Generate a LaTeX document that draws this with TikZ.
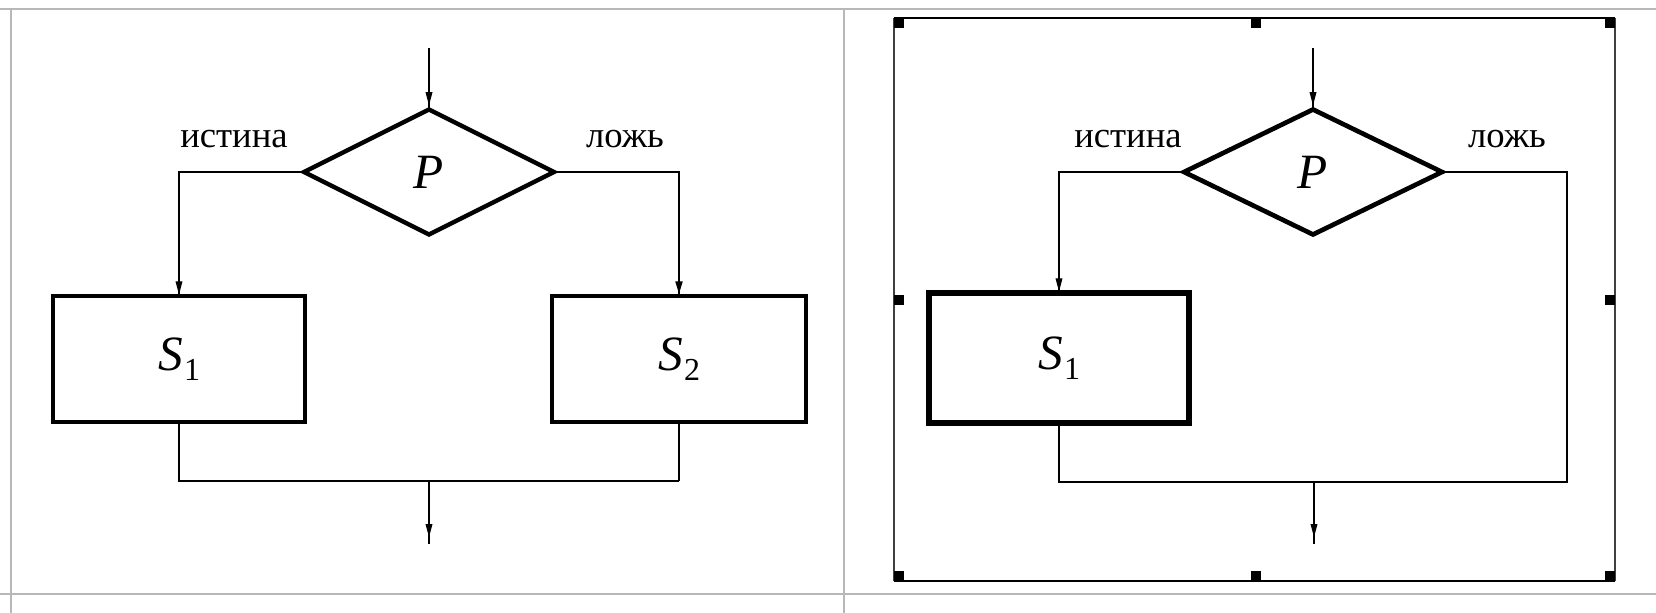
\documentclass[tikz,border=0pt]{standalone}
\usepackage{fontspec}
\setmainfont{Liberation Serif}
\usetikzlibrary{shapes.geometric,arrows.meta,decorations.markings}
\newcommand{\bigit}[1]{\fontsize{37}{40}\selectfont\itshape #1}
\newcommand{\Sone}[1]{{\fontsize{37}{40}\selectfont\itshape S}\kern1pt\raisebox{-7pt}{\fontsize{24}{24}\selectfont #1}}
\tikzset{
  tableline/.style={draw=black!28, line width=1.6pt},
  thinline/.style={line width=0.95pt},
  thickline/.style={line width=2pt},
  frameline/.style={line width=1.5pt},
  sideline/.style={draw=black!75, line width=1pt},
  decis/.style={diamond, draw, line width=3.2pt, inner sep=0pt, outer sep=0pt},
  procbox/.style={rectangle, draw, line width=3.2pt, inner sep=0pt, outer sep=0pt},
  lbl/.style={font=\fontsize{27.5}{30}\selectfont, anchor=base, inner sep=0pt},
  arrowat/.style={postaction={decorate}, decoration={markings, mark=at position #1 with {\arrow{Triangle[length=10pt,width=5pt]}}}}
}
\begin{document}
\begin{tikzpicture}[x=0.75pt,y=-0.75pt]
\useasboundingbox (0,0) rectangle (1656,613);
% table grid
\draw[tableline] (0,9) -- (1656,9);
\draw[tableline] (0,594) -- (1656,594);
\draw[tableline] (11,9) -- (11,613);
\draw[tableline] (844,9) -- (844,613);

% ---------- left panel ----------
\node[decis, minimum width=187.5pt, minimum height=93.75pt] (P1) at (429,172) {\bigit{P}};
\node[procbox, minimum width=189pt, minimum height=94.5pt] (S1) at (179,359) {\Sone{1}};
\node[procbox, minimum width=190.5pt, minimum height=94.5pt] (S2) at (679,359) {\Sone{2}};
\node[lbl] (L1) at (234,148) {истина};
\node[lbl] (L2) at (625,148) {ложь};
\coordinate (T1) at (429,48);
\coordinate (J1) at (429,481);
\coordinate (M1) at (679,481);
\coordinate (E1) at (429,544);
\draw[thinline, arrowat=-3pt] (T1) -- (P1.north);
\draw[thinline, arrowat=-1pt] (P1.west) -| (S1.north);
\draw[thickline, arrowat=-1pt] (P1.east) -| (S2.north);
\draw[thinline] (S1.south) |- (M1);
\draw[thickline] (S2.south) -- (M1);
\draw[thinline, arrowat=-5pt] (J1) -- (E1);

% ---------- right panel ----------
\draw[frameline] (894,18) -- (1615,18);
\draw[frameline] (894,581) -- (1615,581);
\draw[sideline] (894,18) -- (894,581);
\draw[sideline] (1615,18) -- (1615,581);
\foreach \hx/\hy in {894/18, 1251/18, 1605/18, 894/295, 1605/295, 894/571, 1251/571, 1605/571}
  \fill (\hx,\hy) rectangle ++(10,10);
\node[decis, line width=3.5pt, minimum width=193.5pt, minimum height=93.75pt] (P2) at (1313,172) {\bigit{P}};
\node[procbox, line width=5pt, minimum width=195pt, minimum height=97.5pt] (S3) at (1059,358) {\Sone{1}};
\node[lbl] (L3) at (1128,148) {истина};
\node[lbl] (L4) at (1507,148) {ложь};
\coordinate (T2) at (1313,48);
\coordinate (R2) at (1567,482);
\coordinate (J2) at (1314,482);
\coordinate (E2) at (1314,544);
\draw[thinline, arrowat=-3pt] (T2) -- (P2.north);
\draw[thinline, arrowat=-1pt] (P2.west) -| (S3.north);
\draw[thinline] (P2.east) -| (R2) -| (S3.south);
\draw[thinline, arrowat=-5pt] (J2) -- (E2);
\end{tikzpicture}
\end{document}
